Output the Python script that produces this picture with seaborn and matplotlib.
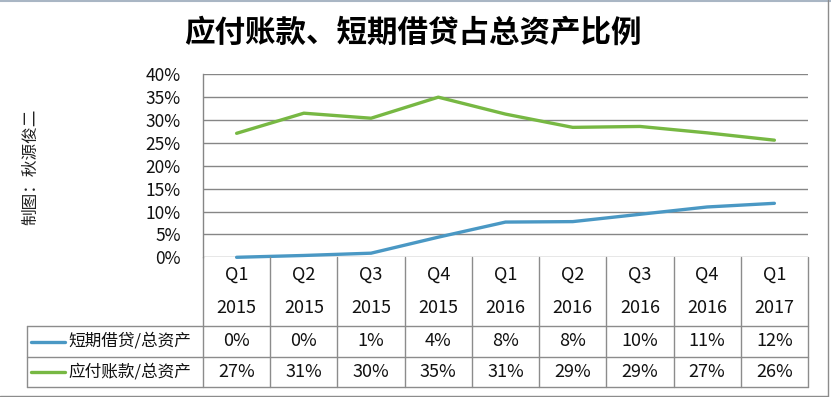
import matplotlib
matplotlib.use("Agg")
import matplotlib.pyplot as plt
import numpy as np
import pandas as pd
import seaborn as sns

# chart data
quarters = ["Q1", "Q2", "Q3", "Q4", "Q1", "Q2", "Q3", "Q4", "Q1"]
years = ["2015", "2015", "2015", "2015", "2016", "2016", "2016", "2016", "2017"]
short_debt = [0.0, 0.4, 0.9, 4.4, 7.7, 7.8, 9.4, 11.0, 11.8]
payables = [27.1, 31.5, 30.4, 35.0, 31.3, 28.4, 28.6, 27.2, 25.6]
short_debt_labels = ["0%", "0%", "1%", "4%", "8%", "8%", "10%", "11%", "12%"]
payables_labels = ["27%", "31%", "30%", "35%", "31%", "29%", "29%", "27%", "26%"]
series_names = ["短期借贷/总资产", "应付账款/总资产"]
colors = ["#4A98C4", "#77B843"]

sns.set_theme(style="white")
plt.rcParams['font.family'] = ['Noto Sans CJK SC', 'DejaVu Sans']

W, H = 831, 397
fig = plt.figure(figsize=(W / 100, H / 100), dpi=100)

# plot area in pixels (from top-left)
left, right, top, bottom = 203, 808, 74.3, 257.3
ax = fig.add_axes([left / W, 1 - bottom / H, (right - left) / W, (bottom - top) / H])

x = np.arange(len(quarters))
df = pd.DataFrame({"x": np.concatenate([x, x]),
                   "value": short_debt + payables,
                   "series": [series_names[0]] * len(x) + [series_names[1]] * len(x)})
sns.lineplot(data=df, x="x", y="value", hue="series", palette=colors,
             linewidth=2.4, legend=False, ax=ax, clip_on=False)

ax.set_xlim(-0.5, len(x) - 0.5)
ax.set_ylim(0, 40)
ax.set_yticks(np.arange(0, 41, 5))
ax.set_yticklabels([f"{v}%" for v in range(0, 41, 5)], fontsize=12.5, color="#111111")
ax.set_xticks([])
ax.set_xlabel("")
ax.set_ylabel("")
ax.tick_params(axis="y", length=0, pad=16)
ax.yaxis.grid(True, color="#868686", linewidth=1)
for s in ["top", "right", "bottom"]:
    ax.spines[s].set_visible(False)
ax.spines["left"].set_color("#868686")
ax.spines["left"].set_linewidth(1)
ax.set_axisbelow(True)

# data table under the plot
px_per_cat = (right - left) / len(x)
ppy = bottom - top
tr = ax.get_xaxis_transform()


def ay(py):
    return -(py - bottom) / ppy


def dx(px):
    return -0.5 - (left - px) / px_per_cat


grid_kw = dict(color="#8c8c8c", linewidth=1, transform=tr, clip_on=False)
row1, row2, row3 = 326, 357.3, 386.7
x_lab = dx(26.7)
for yy in [row1, row2, row3]:
    ax.plot([x_lab, len(x) - 0.5], [ay(yy), ay(yy)], **grid_kw)
for i in range(len(x) + 1):
    ax.plot([i - 0.5, i - 0.5], [0, ay(row3)], **grid_kw)
ax.plot([x_lab, x_lab], [ay(row1), ay(row3)], **grid_kw)

txt_kw = dict(transform=tr, ha="center", va="center", fontsize=13, color="#111111")
for i in range(len(x)):
    ax.text(i, ay(275), quarters[i], **txt_kw)
    ax.text(i, ay(308), years[i], **txt_kw)
    ax.text(i, ay(341.5), short_debt_labels[i], **txt_kw)
    ax.text(i, ay(372), payables_labels[i], **txt_kw)

for k, (name, yy) in enumerate(zip(series_names, [341.5, 372])):
    ax.plot([dx(30.7), dx(65)], [ay(yy), ay(yy)], color=colors[k], linewidth=2.4,
            transform=tr, clip_on=False)
    ax.text(dx(68), ay(yy), name, transform=tr, ha="left", va="center",
            fontsize=12, color="#111111")

# title and side note
fig.text(412.5 / W, 1 - 33 / H, "应付账款、短期借贷占总资产比例",
         ha="center", va="center", fontsize=22, fontweight="heavy", color="black")
fig.text(31 / W, 1 - 166.5 / H, "制图：秋源俊二", rotation=90,
         ha="center", va="center", fontsize=12, color="#222222")

# chart area border
fig.add_artist(plt.Line2D([0, 1], [1 - 0.5 / H, 1 - 0.5 / H], color="#a9b6c4", linewidth=1.5))
fig.add_artist(plt.Line2D([828 / W, 828 / W], [1 - 395.5 / H, 1], color="#8c8c8c", linewidth=1))
fig.add_artist(plt.Line2D([0, 828 / W], [1 - 395.5 / H, 1 - 395.5 / H], color="#8c8c8c", linewidth=1))

fig.savefig("out.png", dpi=100)
